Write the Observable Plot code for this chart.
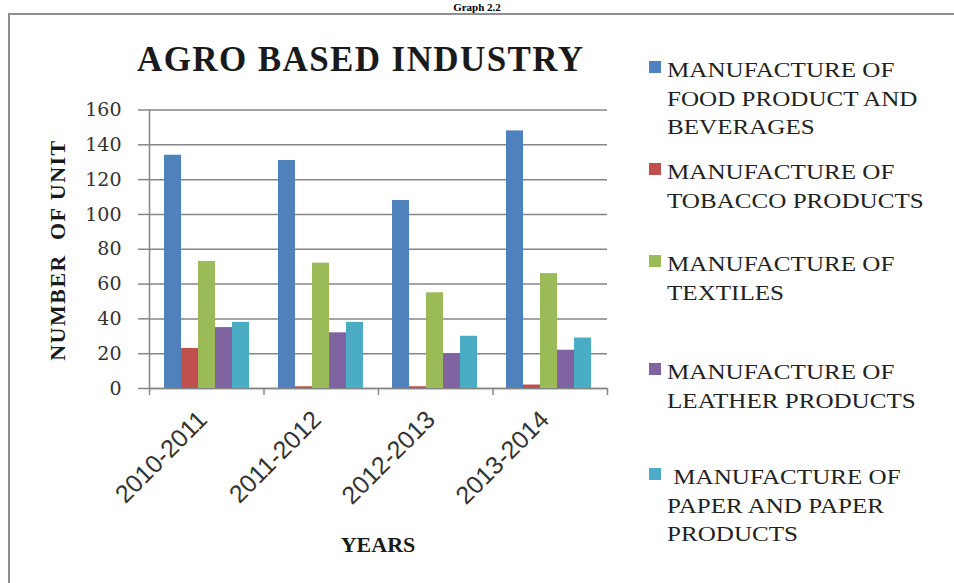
<!DOCTYPE html>
<html>
<head>
<meta charset="utf-8">
<script src="https://cdn.jsdelivr.net/npm/d3@7"></script>
<script src="https://cdn.jsdelivr.net/npm/@observablehq/plot@0.6"></script>
<style>
  html, body { margin: 0; padding: 0; background: #fff; }
  #wrap { position: relative; width: 954px; height: 583px; overflow: hidden; background: #fff; }
  #wrap svg { position: absolute; left: 0; top: 0; }
  .abs { position: absolute; white-space: nowrap; }
  #frame { position: absolute; left: 8px; top: 13px; width: 1000px; height: 1000px; border-left: 2px solid #8f8f8f; border-top: 2px solid #8f8f8f; }
  #graphno { left: 0; width: 954px; text-align: center; top: 1px; font: bold 11px "Liberation Serif", serif; line-height: 12px; color: #000; }
  #title { left: 137px; top: 40px; font: bold 35px "Liberation Serif", serif; letter-spacing: 1.4px; color: #1a1a1a; }
  #ytitle { left: 58px; top: 250px; transform: translate(-50%, -50%) rotate(-90deg); font: bold 22px "Liberation Serif", serif; letter-spacing: 1.5px; color: #1a1a1a; white-space: pre; }
  #xtitle { left: 378px; top: 532px; transform: translateX(-50%); font: bold 22px "Liberation Serif", serif; color: #1a1a1a; }
  .leg { position: absolute; left: 667px; font-family: "Liberation Serif", "Times New Roman", serif; font-size: 22px; line-height: 28.5px; color: #222; white-space: pre; transform: scaleX(1.14); transform-origin: 0 0; }
  .sw { position: absolute; left: 649px; width: 12px; height: 12px; }
</style>
</head>
<body>
<div id="wrap">
  <div id="frame"></div>
  <div id="graphno" class="abs">Graph 2.2</div>
</div>
<script>
// ---- data ----
const years = ["2010-2011", "2011-2012", "2012-2013", "2013-2014"];
const seriesNames = [
  "MANUFACTURE OF FOOD PRODUCT AND BEVERAGES",
  "MANUFACTURE OF TOBACCO PRODUCTS",
  "MANUFACTURE OF TEXTILES",
  "MANUFACTURE OF LEATHER PRODUCTS",
  "MANUFACTURE OF PAPER AND PAPER PRODUCTS"
];
const legendLines = [
  ["MANUFACTURE OF", "FOOD PRODUCT AND", "BEVERAGES"],
  ["MANUFACTURE OF", "TOBACCO PRODUCTS"],
  ["MANUFACTURE OF", "TEXTILES"],
  ["MANUFACTURE OF", "LEATHER PRODUCTS"],
  [" MANUFACTURE OF", "PAPER AND PAPER", "PRODUCTS"]
];
const foodValues     = [134, 131, 108, 148];
const tobaccoValues  = [23, 1, 1, 2];
const textileValues  = [73, 72, 55, 66];
const leatherValues  = [35, 32, 20, 22];
const paperValues    = [38, 38, 30, 29];
const yTicks = [0, 20, 40, 60, 80, 100, 120, 140, 160];
const colors = ["#4F81BD", "#C0504D", "#9BBB59", "#8064A2", "#4BACC6"];

const valueSets = [foodValues, tobaccoValues, textileValues, leatherValues, paperValues];
const rows = [];
years.forEach((yr, i) => {
  seriesNames.forEach((s, j) => rows.push({year: yr, series: s, value: valueSets[j][i]}));
});

// ---- layout ----
const W = 954, H = 583;
const mL = 149, mR = 347, mT = 109.5, mB = 195;
const wrap = document.getElementById("wrap");

// background: grid, y axis, axis lines, category boundary ticks
const bg = Plot.plot({
  width: W, height: H,
  marginLeft: mL, marginRight: mR, marginTop: mT, marginBottom: mB,
  style: {background: "transparent", overflow: "visible"},
  x: {domain: [0, years.length], axis: null},
  y: {domain: [0, 160], axis: null},
  marks: [
    Plot.gridY(yTicks, {stroke: "#868686", strokeOpacity: 1, strokeWidth: 1.5}),
    Plot.axisY(yTicks, {tickSize: 11, tickPadding: 17, stroke: "#868686", strokeOpacity: 1, strokeWidth: 1.5,
      fontSize: 19, fontFamily: "DejaVu Serif", fill: "#333", label: null}),
    Plot.axisX(d3.range(years.length + 1), {tickSize: 7, tickFormat: () => "", stroke: "#868686", strokeWidth: 1.5, label: null}),
    Plot.ruleX([0], {stroke: "#868686", strokeWidth: 1.5}),
    Plot.ruleY([0], {stroke: "#868686", strokeWidth: 1.5})
  ]
});
wrap.appendChild(bg);

// foreground: grouped bars with facets
const fg = Plot.plot({
  width: W, height: H,
  marginLeft: mL, marginRight: mR, marginTop: mT, marginBottom: mB,
  style: {background: "transparent", overflow: "visible"},
  fx: {domain: years, paddingInner: 0.236, paddingOuter: 0.118},
  x: {domain: seriesNames, padding: 0, axis: null},
  y: {domain: [0, 160], axis: null},
  color: {domain: seriesNames, range: colors},
  marks: [
    Plot.barY(rows, {fx: "year", x: "series", y: "value", fill: "series", insetLeft: 0, insetRight: 0}),
    Plot.axisFx({anchor: "bottom", tickRotate: -45, tickSize: 0, tickPadding: 27, dx: -4, fontSize: 25,
      fontFamily: "Liberation Sans", fill: "#333", label: null})
  ]
});
wrap.appendChild(fg);

// texts
function addDiv(id, text, cls) {
  const d = document.createElement("div");
  d.id = id; d.className = cls || "abs"; d.textContent = text;
  wrap.appendChild(d); return d;
}
addDiv("title", "AGRO BASED INDUSTRY");
addDiv("ytitle", "NUMBER  OF UNIT");
addDiv("xtitle", "YEARS");

// legend
const legTops = [56, 158, 250, 358, 463];
legendLines.forEach((lines, i) => {
  const sw = document.createElement("div");
  sw.className = "sw";
  sw.style.top = (legTops[i] + 5) + "px";
  sw.style.background = colors[i];
  wrap.appendChild(sw);
  const t = document.createElement("div");
  t.className = "leg";
  t.style.top = legTops[i] + "px";
  t.textContent = lines.join("\n");
  wrap.appendChild(t);
});
</script>
</body>
</html>
